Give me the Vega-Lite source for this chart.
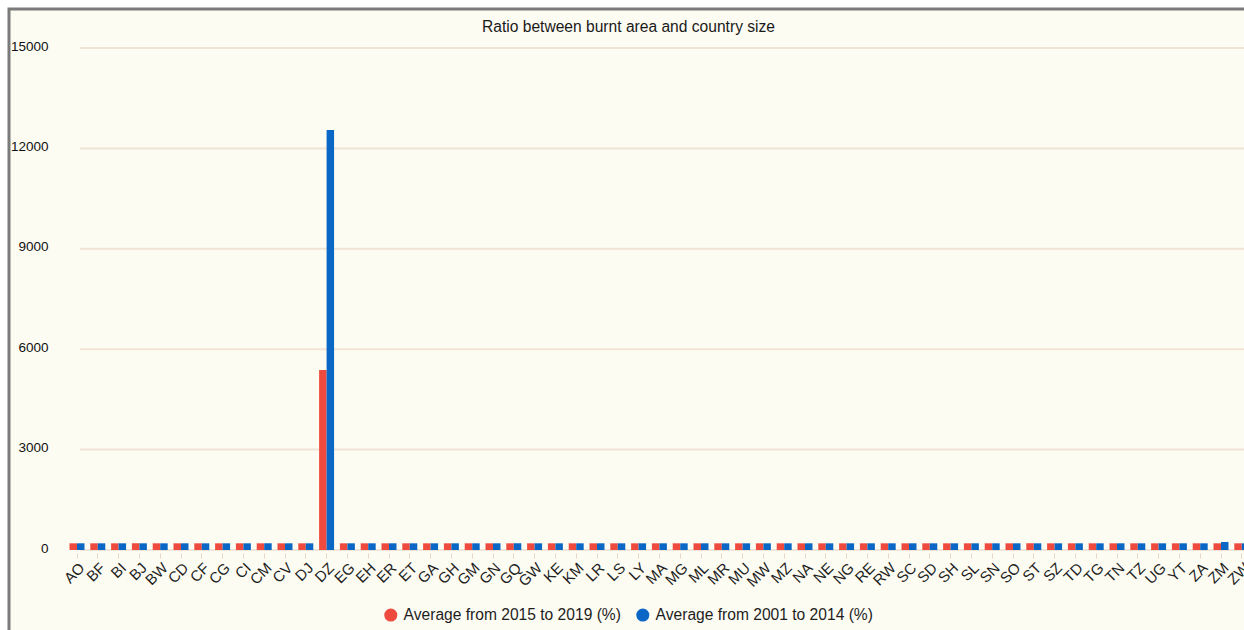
{
  "$schema": "https://vega.github.io/schema/vega-lite/v6.json",
  "width": 1239,
  "height": 625,
  "autosize": {"type": "none"},
  "padding": {"left": 9, "top": 9, "right": -4, "bottom": -4},
  "background": "#ffffff",
  "title": {
    "text": "Ratio between burnt area and country size",
    "anchor": "middle",
    "frame": "group",
    "offset": -27,
    "fontSize": 15.6,
    "fontWeight": "normal",
    "font": "Liberation Sans",
    "color": "#1a1a1a"
  },
  "config": {
    "font": "Liberation Sans",
    "view": {"fill": "#FDFCF3", "stroke": "#7b7b7b", "strokeWidth": 3}
  },
  "layer": [
    {
      "data": {"values": [{"g": 0}, {"g": 3000}, {"g": 6000}, {"g": 9000}, {"g": 12000}, {"g": 15000}]},
      "mark": {"type": "rule", "stroke": "#EFE4D6", "strokeWidth": 2},
      "encoding": {
        "y": {"field": "g", "type": "quantitative"},
        "x": {"datum": "AO", "type": "nominal", "bandPosition": 0.7},
        "x2": {"value": "width"}
      }
    },
    {
      "data": {
        "values": [
          {"c": "AO", "recent": 200, "early": 200},
          {"c": "BF", "recent": 200, "early": 200},
          {"c": "BI", "recent": 200, "early": 200},
          {"c": "BJ", "recent": 200, "early": 200},
          {"c": "BW", "recent": 200, "early": 200},
          {"c": "CD", "recent": 200, "early": 200},
          {"c": "CF", "recent": 200, "early": 200},
          {"c": "CG", "recent": 200, "early": 200},
          {"c": "CI", "recent": 200, "early": 200},
          {"c": "CM", "recent": 200, "early": 200},
          {"c": "CV", "recent": 200, "early": 200},
          {"c": "DJ", "recent": 200, "early": 200},
          {"c": "DZ", "recent": 5380, "early": 12550},
          {"c": "EG", "recent": 200, "early": 200},
          {"c": "EH", "recent": 200, "early": 200},
          {"c": "ER", "recent": 200, "early": 200},
          {"c": "ET", "recent": 200, "early": 200},
          {"c": "GA", "recent": 200, "early": 200},
          {"c": "GH", "recent": 200, "early": 200},
          {"c": "GM", "recent": 200, "early": 200},
          {"c": "GN", "recent": 200, "early": 200},
          {"c": "GQ", "recent": 200, "early": 200},
          {"c": "GW", "recent": 200, "early": 200},
          {"c": "KE", "recent": 200, "early": 200},
          {"c": "KM", "recent": 200, "early": 200},
          {"c": "LR", "recent": 200, "early": 200},
          {"c": "LS", "recent": 200, "early": 200},
          {"c": "LY", "recent": 200, "early": 200},
          {"c": "MA", "recent": 200, "early": 200},
          {"c": "MG", "recent": 200, "early": 200},
          {"c": "ML", "recent": 200, "early": 200},
          {"c": "MR", "recent": 200, "early": 200},
          {"c": "MU", "recent": 200, "early": 200},
          {"c": "MW", "recent": 200, "early": 200},
          {"c": "MZ", "recent": 200, "early": 200},
          {"c": "NA", "recent": 200, "early": 200},
          {"c": "NE", "recent": 200, "early": 200},
          {"c": "NG", "recent": 200, "early": 200},
          {"c": "RE", "recent": 200, "early": 200},
          {"c": "RW", "recent": 200, "early": 200},
          {"c": "SC", "recent": 200, "early": 200},
          {"c": "SD", "recent": 200, "early": 200},
          {"c": "SH", "recent": 200, "early": 200},
          {"c": "SL", "recent": 200, "early": 200},
          {"c": "SN", "recent": 200, "early": 200},
          {"c": "SO", "recent": 200, "early": 200},
          {"c": "ST", "recent": 200, "early": 200},
          {"c": "SZ", "recent": 200, "early": 200},
          {"c": "TD", "recent": 200, "early": 200},
          {"c": "TG", "recent": 200, "early": 200},
          {"c": "TN", "recent": 200, "early": 200},
          {"c": "TZ", "recent": 200, "early": 200},
          {"c": "UG", "recent": 200, "early": 200},
          {"c": "YT", "recent": 200, "early": 200},
          {"c": "ZA", "recent": 200, "early": 200},
          {"c": "ZM", "recent": 200, "early": 240},
          {"c": "ZW", "recent": 200, "early": 200}
        ]
      },
      "transform": [{"fold": ["recent", "early"], "as": ["series", "v"]}],
      "mark": {"type": "bar"},
      "encoding": {
        "x": {
          "field": "c",
          "type": "nominal",
          "scale": {"range": [57.6, 1243.2], "paddingInner": 0.28, "paddingOuter": 0.14},
          "axis": {
            "orient": "bottom",
            "offset": -81,
            "title": null,
            "domain": false,
            "grid": false,
            "tickColor": "#E4D8C7",
            "tickSize": 5,
            "labelAngle": -45,
            "labelAlign": "right",
            "labelBaseline": "top",
            "labelPadding": 2,
            "labelFontSize": 15,
            "labelColor": "#1e1e1e"
          }
        },
        "xOffset": {"field": "series", "type": "nominal", "sort": ["recent", "early"], "scale": {"paddingInner": 0}},
        "y": {
          "field": "v",
          "type": "quantitative",
          "scale": {"domain": [0, 15000], "range": [541, 39], "nice": false},
          "axis": {
            "orient": "left",
            "offset": -71,
            "title": null,
            "domain": false,
            "ticks": false,
            "grid": false,
            "values": [0, 3000, 6000, 9000, 12000, 15000],
            "format": "d",
            "labelPadding": 32,
            "labelOffset": -2,
            "labelFontSize": 13.5,
            "labelColor": "#111111"
          }
        },
        "color": {
          "field": "series",
          "type": "nominal",
          "scale": {"domain": ["recent", "early"], "range": ["#EE4A3D", "#0B67C5"]},
          "legend": {
            "orient": "none",
            "legendX": 374,
            "legendY": 598,
            "direction": "horizontal",
            "title": null,
            "symbolType": "circle",
            "symbolSize": 170,
            "symbolStrokeWidth": 1,
            "labelFontSize": 15.6,
            "labelColor": "#1e1e1e",
            "labelLimit": 320,
            "labelOffset": 5,
            "columnPadding": 14,
            "labelExpr": "datum.value == 'recent' ? 'Average from 2015 to 2019 (%)' : 'Average from 2001 to 2014 (%)'"
          }
        }
      }
    }
  ]
}
